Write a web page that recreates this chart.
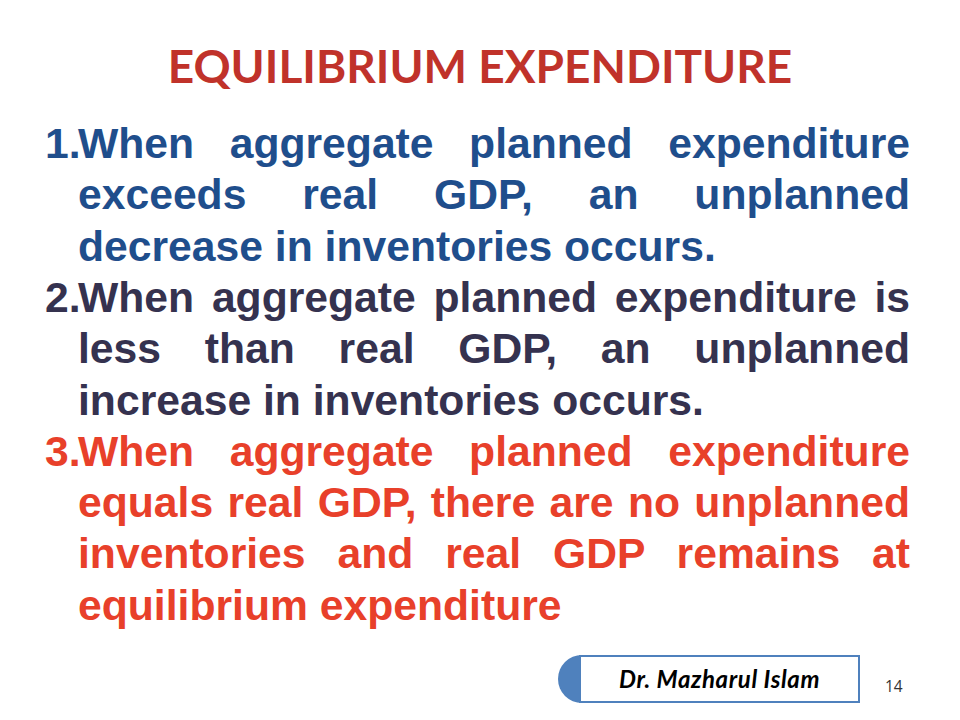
<!DOCTYPE html>
<html>
<head>
<meta charset="utf-8">
<script src="https://cdn.jsdelivr.net/npm/chart.js@4.4.0/dist/chart.umd.min.js"></script>
<style>
  html, body { margin: 0; padding: 0; background: #fff; }
  #slide { position: relative; width: 960px; height: 720px; overflow: hidden; background: #fff; }
  #title {
    position: absolute; left: 0; top: 38px; width: 960px; text-align: center;
    font-family: Lato, "Open Sans", sans-serif; font-weight: 700; font-size: 46px;
    color: #C0322A; line-height: 56px; white-space: nowrap;
  }
  .line {
    position: absolute; left: 78px; width: 832px; height: 52px;
    font-family: "Liberation Sans", Arial, sans-serif; font-weight: 700; font-size: 42.67px;
    line-height: 51.2px; white-space: nowrap;
  }
  .line.just { text-align: justify; text-align-last: justify; white-space: normal; }
  .num {
    position: absolute; left: 45px;
    font-family: "Liberation Sans", Arial, sans-serif; font-weight: 700; font-size: 42.67px;
    line-height: 51.2px;
  }
  #badgeCap { position: absolute; left: 558px; top: 655px; width: 48px; height: 48px; border-radius: 50%; background: #4F81BD; }
  #badge {
    position: absolute; left: 579px; top: 655px; width: 277px; height: 44px;
    border: 2.5px solid #4F81BD; background: #fff; text-align: center;
    font-family: Lato, "Open Sans", sans-serif; font-weight: 700; font-style: italic; font-size: 24px;
    letter-spacing: 0.6px; line-height: 44px; color: #000;
  }
  #page { position: absolute; left: 885px; top: 675px; font-family: "Open Sans", sans-serif; font-size: 15.5px; color: #333; }
</style>
</head>
<body>
<div id="slide">
  <div id="title"></div>
  <div id="body"></div>
  <div id="badgeCap"></div>
  <div id="badge"></div>
  <div id="page"></div>
</div>
<script>
const titleText = "EQUILIBRIUM EXPENDITURE";
const itemNumbers = ["1.", "2.", "3."];
const itemColors = ["#1F4E8C", "#35324F", "#E8402A"];
const item1Lines = [
  "When aggregate planned expenditure",
  "exceeds real GDP, an unplanned",
  "decrease in inventories occurs."
];
const item2Lines = [
  "When aggregate planned expenditure is",
  "less than real GDP, an unplanned",
  "increase in inventories occurs."
];
const item3Lines = [
  "When aggregate planned expenditure",
  "equals real GDP, there are no unplanned",
  "inventories and real GDP remains at",
  "equilibrium expenditure"
];
const authorText = "Dr. Mazharul Islam";
const pageNumber = "14";

const firstLineTop = 118;
const lineStep = 51.3;

document.getElementById("title").textContent = titleText;
document.getElementById("badge").textContent = authorText;
document.getElementById("page").textContent = pageNumber;

const body = document.getElementById("body");
let row = 0;
[item1Lines, item2Lines, item3Lines].forEach((lines, i) => {
  const num = document.createElement("div");
  num.className = "num";
  num.style.top = `${firstLineTop + row * lineStep}px`;
  num.style.color = itemColors[i];
  num.textContent = itemNumbers[i];
  body.appendChild(num);

  lines.forEach((text, j) => {
    const div = document.createElement("div");
    div.className = j < lines.length - 1 ? "line just" : "line";
    div.style.top = `${firstLineTop + row * lineStep}px`;
    div.style.color = itemColors[i];
    div.textContent = text;
    body.appendChild(div);
    row++;
  });
});
</script>
</body>
</html>
